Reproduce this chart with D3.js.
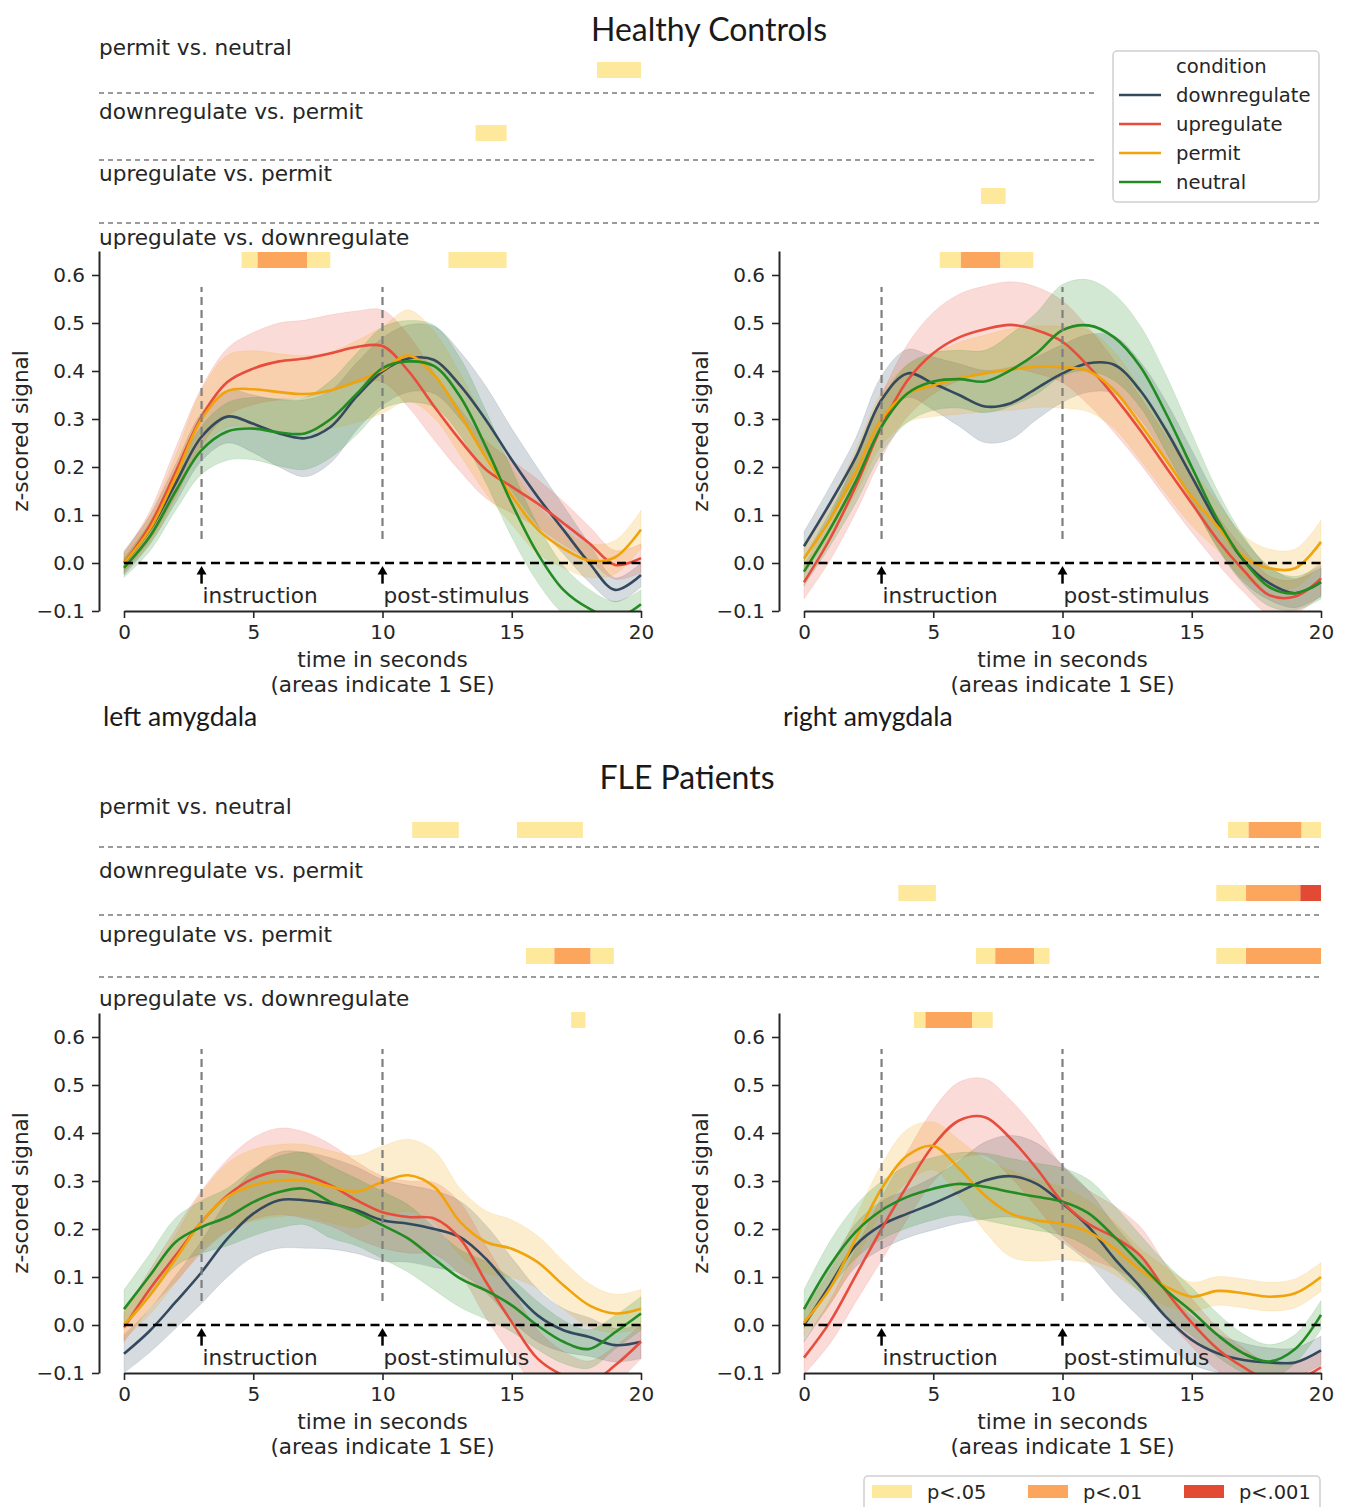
<!DOCTYPE html>
<html><head><meta charset="utf-8">
<script src="https://cdnjs.cloudflare.com/ajax/libs/d3/7.8.5/d3.min.js"></script>
<style>
body{margin:0;background:#fff;}
svg text{font-family:"DejaVu Sans",sans-serif;fill:#262626;}
.ttl{font-family:Lato,"Open Sans",sans-serif !important;fill:#1a1a1a;}
</style>
</head><body>
<svg id="chart" width="1347" height="1507"></svg>
<script>
// ---------------- data ----------------
const time = [0,1,2,3,4,5,6,7,8,9,10,11,12,13,14,15,16,17,18,19,20];
const conditions = ["downregulate","upregulate","permit","neutral"];
const comparisons = ["permit vs. neutral","downregulate vs. permit","upregulate vs. permit","upregulate vs. downregulate"];
const pLabels = ["p<.05","p<.01","p<.001"];
const yTicks = [-0.1,0,0.1,0.2,0.3,0.4,0.5,0.6];
const xTicks = [0,5,10,15,20];

// Healthy controls, left amygdala
const hcLeftDown    = [0.0,0.069,0.166,0.263,0.305,0.29,0.27,0.26,0.284,0.347,0.399,0.426,0.423,0.37,0.298,0.215,0.138,0.069,0.0,-0.056,-0.025];
const hcLeftDownSE  = [0.025,0.03,0.04,0.05,0.055,0.06,0.07,0.08,0.075,0.07,0.07,0.07,0.07,0.07,0.07,0.065,0.06,0.05,0.04,0.025,0.025];
const hcLeftUp      = [0.0,0.078,0.19,0.305,0.377,0.405,0.42,0.426,0.437,0.45,0.452,0.40,0.326,0.256,0.195,0.159,0.124,0.083,0.041,-0.004,0.01];
const hcLeftUpSE    = [0.02,0.03,0.05,0.06,0.07,0.075,0.08,0.08,0.08,0.075,0.075,0.075,0.07,0.065,0.06,0.055,0.05,0.045,0.035,0.03,0.03];
const hcLeftPermit  = [0.0,0.07,0.18,0.30,0.358,0.362,0.356,0.352,0.36,0.378,0.402,0.432,0.392,0.31,0.22,0.14,0.07,0.03,0.005,0.012,0.07];
const hcLeftPermitSE= [0.02,0.03,0.045,0.06,0.075,0.08,0.08,0.08,0.08,0.085,0.09,0.095,0.09,0.085,0.075,0.06,0.05,0.04,0.035,0.035,0.04];
const hcLeftNeutral = [-0.01,0.055,0.15,0.235,0.274,0.28,0.272,0.27,0.3,0.352,0.406,0.42,0.41,0.347,0.242,0.124,0.02,-0.056,-0.095,-0.115,-0.086];
const hcLeftNeutralSE=[0.02,0.03,0.04,0.05,0.06,0.065,0.07,0.075,0.08,0.085,0.085,0.085,0.085,0.08,0.075,0.07,0.06,0.05,0.04,0.035,0.03];

// Healthy controls, right amygdala
const hcRightDown    = [0.035,0.124,0.22,0.34,0.395,0.374,0.35,0.326,0.333,0.364,0.395,0.416,0.413,0.36,0.277,0.18,0.083,0.006,-0.042,-0.063,-0.04];
const hcRightDownSE  = [0.03,0.035,0.04,0.05,0.05,0.055,0.065,0.075,0.075,0.065,0.06,0.06,0.06,0.06,0.06,0.055,0.05,0.045,0.035,0.03,0.03];
const hcRightUp      = [-0.04,0.05,0.16,0.284,0.38,0.437,0.47,0.487,0.496,0.485,0.461,0.41,0.347,0.277,0.2,0.124,0.048,-0.015,-0.067,-0.07,-0.032];
const hcRightUpSE    = [0.035,0.045,0.055,0.065,0.075,0.085,0.09,0.09,0.09,0.09,0.085,0.08,0.075,0.07,0.065,0.06,0.05,0.045,0.04,0.035,0.035];
const hcRightPermit  = [0.01,0.09,0.19,0.30,0.353,0.37,0.385,0.395,0.403,0.409,0.408,0.40,0.36,0.29,0.215,0.138,0.076,0.013,-0.011,-0.011,0.044];
const hcRightPermitSE= [0.03,0.035,0.045,0.055,0.06,0.065,0.075,0.08,0.085,0.085,0.085,0.085,0.08,0.075,0.07,0.06,0.05,0.045,0.04,0.04,0.045];
const hcRightNeutral = [-0.018,0.07,0.17,0.284,0.353,0.378,0.383,0.378,0.402,0.437,0.485,0.495,0.47,0.41,0.312,0.2,0.09,0.006,-0.05,-0.063,-0.04];
const hcRightNeutralSE=[0.03,0.035,0.045,0.055,0.06,0.06,0.06,0.065,0.075,0.085,0.095,0.095,0.09,0.085,0.08,0.07,0.06,0.05,0.04,0.035,0.035];

// FLE patients, left amygdala
const fleLeftDown    = [-0.06,-0.012,0.048,0.11,0.18,0.232,0.26,0.26,0.253,0.239,0.218,0.211,0.2,0.183,0.138,0.075,0.02,-0.011,-0.025,-0.042,-0.035];
const fleLeftDownSE  = [0.04,0.045,0.055,0.065,0.08,0.09,0.1,0.1,0.095,0.09,0.085,0.08,0.08,0.075,0.07,0.065,0.055,0.045,0.04,0.035,0.035];
const fleLeftUp      = [-0.005,0.075,0.145,0.215,0.27,0.305,0.32,0.312,0.291,0.26,0.235,0.225,0.222,0.18,0.09,0.006,-0.07,-0.105,-0.12,-0.084,-0.035];
const fleLeftUpSE    = [0.03,0.04,0.055,0.065,0.075,0.085,0.09,0.09,0.085,0.08,0.075,0.075,0.075,0.075,0.075,0.07,0.06,0.05,0.045,0.04,0.035];
const fleLeftPermit  = [0.0,0.062,0.138,0.215,0.267,0.291,0.301,0.301,0.288,0.278,0.298,0.312,0.288,0.215,0.173,0.159,0.131,0.083,0.041,0.024,0.034];
const fleLeftPermitSE= [0.03,0.04,0.05,0.06,0.07,0.075,0.075,0.075,0.075,0.075,0.075,0.075,0.075,0.07,0.065,0.06,0.055,0.05,0.045,0.04,0.04];
const fleLeftNeutral = [0.033,0.103,0.173,0.204,0.225,0.256,0.277,0.284,0.256,0.235,0.208,0.18,0.138,0.097,0.072,0.041,-0.001,-0.035,-0.05,-0.015,0.024];
const fleLeftNeutralSE=[0.04,0.045,0.05,0.055,0.06,0.07,0.075,0.075,0.075,0.07,0.07,0.07,0.065,0.06,0.06,0.055,0.05,0.045,0.04,0.035,0.035];

// FLE patients, right amygdala
const fleRightDown    = [0.0,0.083,0.166,0.208,0.232,0.253,0.277,0.301,0.31,0.294,0.253,0.205,0.139,0.08,0.017,-0.031,-0.059,-0.073,-0.078,-0.078,-0.053];
const fleRightDownSE  = [0.035,0.04,0.045,0.05,0.05,0.055,0.065,0.08,0.085,0.085,0.08,0.075,0.07,0.065,0.055,0.05,0.04,0.035,0.03,0.03,0.03];
const fleRightUp      = [-0.068,0.006,0.103,0.2,0.291,0.374,0.426,0.433,0.388,0.326,0.256,0.211,0.183,0.145,0.071,0.005,-0.05,-0.088,-0.115,-0.115,-0.088];
const fleRightUpSE    = [0.035,0.045,0.055,0.065,0.07,0.075,0.08,0.08,0.08,0.08,0.075,0.07,0.065,0.06,0.055,0.05,0.045,0.04,0.035,0.035,0.035];
const fleRightPermit  = [0.005,0.076,0.18,0.284,0.353,0.373,0.326,0.27,0.232,0.218,0.211,0.194,0.16,0.115,0.08,0.059,0.071,0.066,0.059,0.066,0.1];
const fleRightPermitSE= [0.03,0.035,0.045,0.05,0.055,0.05,0.06,0.075,0.09,0.085,0.075,0.065,0.055,0.045,0.04,0.03,0.03,0.03,0.03,0.03,0.03];
const fleRightNeutral = [0.033,0.124,0.194,0.239,0.267,0.284,0.294,0.288,0.277,0.267,0.257,0.233,0.184,0.128,0.073,0.028,-0.021,-0.059,-0.076,-0.05,0.021];
const fleRightNeutralSE=[0.04,0.05,0.055,0.06,0.065,0.065,0.065,0.07,0.07,0.07,0.07,0.07,0.065,0.06,0.055,0.05,0.045,0.04,0.035,0.03,0.03];

// significance intervals: [panel, start s, end s, level (0:p<.05, 1:p<.01, 2:p<.001)]
const hcSigPermitNeutral = [["L",18.3,20,0]];
const hcSigDownPermit    = [["L",13.6,14.8,0]];
const hcSigUpPermit      = [["R",6.85,7.8,0]];
const hcSigUpDown        = [["L",4.55,5.17,0],["L",5.17,7.08,1],["L",7.08,7.98,0],["L",12.55,14.8,0],
                            ["R",5.25,6.07,0],["R",6.07,7.6,1],["R",7.6,8.87,0]];
const fleSigPermitNeutral= [["L",11.15,12.95,0],["L",15.2,17.75,0],["R",16.4,17.2,0],["R",17.2,19.25,1],["R",19.25,20,0]];
const fleSigDownPermit   = [["R",3.65,5.1,0],["R",15.95,17.1,0],["R",17.1,19.2,1],["R",19.2,20,2]];
const fleSigUpPermit     = [["L",15.55,16.65,0],["L",16.65,18.05,1],["L",18.05,18.95,0],
                            ["R",6.65,7.4,0],["R",7.4,8.9,1],["R",8.9,9.5,0],["R",15.95,17.1,0],["R",17.1,20,1]];
const fleSigUpDown       = [["L",17.3,17.85,0],["R",4.25,4.7,0],["R",4.7,6.5,1],["R",6.5,7.3,0]];

// ---------------- styling / layout ----------------
const colors = ["#34495e","#e74c3c","#f0a30a","#228b22"];
const sigColors = ["#fee89c","#fca55d","#e34a33"];
const svg = d3.select("#chart");

const sections = [
  {title:"Healthy Controls", titleX:709, titleY:28,
   labelY:[47,111,173,237], barTop:[62,125,188,252], dashY:[93,160,223], dashEnd:[1097,1097,1322],
   yRange:[611,251],
   sig:[hcSigPermitNeutral,hcSigDownPermit,hcSigUpPermit,hcSigUpDown],
   panels:[
     {name:"left amygdala", mean:[hcLeftDown,hcLeftUp,hcLeftPermit,hcLeftNeutral], se:[hcLeftDownSE,hcLeftUpSE,hcLeftPermitSE,hcLeftNeutralSE]},
     {name:"right amygdala", mean:[hcRightDown,hcRightUp,hcRightPermit,hcRightNeutral], se:[hcRightDownSE,hcRightUpSE,hcRightPermitSE,hcRightNeutralSE]}
   ], showNames:true},
  {title:"FLE Patients", titleX:687, titleY:776,
   labelY:[806,870,934,998], barTop:[822,885,948,1012], dashY:[847,915,977], dashEnd:[1322,1322,1322],
   yRange:[1373,1013],
   sig:[fleSigPermitNeutral,fleSigDownPermit,fleSigUpPermit,fleSigUpDown],
   panels:[
     {name:"", mean:[fleLeftDown,fleLeftUp,fleLeftPermit,fleLeftNeutral], se:[fleLeftDownSE,fleLeftUpSE,fleLeftPermitSE,fleLeftNeutralSE]},
     {name:"", mean:[fleRightDown,fleRightUp,fleRightPermit,fleRightNeutral], se:[fleRightDownSE,fleRightUpSE,fleRightPermitSE,fleRightNeutralSE]}
   ], showNames:false}
];
const panelX = [[124,641],[804,1321]];
const spineX = [99,779];
const xScales = panelX.map(r => d3.scaleLinear().domain([0,20]).range(r));
const bigFont = "21.6px";

sections.forEach((sec, si) => {
  svg.append("text").attr("class","ttl").attr("x",sec.titleX).attr("y",sec.titleY)
    .attr("text-anchor","middle").attr("dominant-baseline","central")
    .style("font-size","32px").text(sec.title);

  comparisons.forEach((c,i) => {
    svg.append("text").attr("x",99).attr("y",sec.labelY[i]).attr("dominant-baseline","central")
      .style("font-size",bigFont).text(c);
    sec.sig[i].forEach(s => {
      const xs = xScales[s[0]==="L"?0:1];
      svg.append("rect").attr("x",xs(s[1])).attr("y",sec.barTop[i])
        .attr("width",xs(s[2])-xs(s[1])).attr("height",16)
        .attr("fill",sigColors[s[3]]);
    });
    if (i<3) {
      svg.append("line").attr("x1",99).attr("x2",sec.dashEnd[i]).attr("y1",sec.dashY[i]).attr("y2",sec.dashY[i])
        .attr("stroke","#7a7a7a").attr("stroke-width",1.7).attr("stroke-dasharray","5,4");
    }
  });

  const y = d3.scaleLinear().domain([-0.1,0.65]).range(sec.yRange);

  sec.panels.forEach((p, pi) => {
    const x = xScales[pi];
    const g = svg.append("g");
    const clipId = `clip${si}${pi}`;
    svg.append("clipPath").attr("id",clipId).append("rect")
      .attr("x",x(0)-2).attr("y",y(0.65)).attr("width",x(20)-x(0)+4).attr("height",y(-0.1)-y(0.65));
    const plot = g.append("g").attr("clip-path",`url(#${clipId})`);

    const area = d3.area().curve(d3.curveCatmullRom)
      .x((d,i)=>x(time[i])).y0(d=>y(d[0]-d[1])).y1(d=>y(d[0]+d[1]));
    const line = d3.line().curve(d3.curveCatmullRom).x((d,i)=>x(time[i])).y(d=>y(d));

    p.mean.forEach((m,k) => {
      const pts = m.map((v,i)=>[v,p.se[k][i]]);
      plot.append("path").attr("d",area(pts)).attr("fill",colors[k]).attr("fill-opacity",0.2)
        .attr("stroke",colors[k]).attr("stroke-opacity",0.12).attr("stroke-width",1);
    });
    [3,10].forEach(t => {
      g.append("line").attr("x1",x(t)).attr("x2",x(t)).attr("y1",y(0.05)).attr("y2",y(0.575))
        .attr("stroke","#7f7f7f").attr("stroke-width",2.2).attr("stroke-dasharray","8,5");
    });
    p.mean.forEach((m,k) => {
      plot.append("path").attr("d",line(m)).attr("fill","none").attr("stroke",colors[k]).attr("stroke-width",2.6);
    });
    g.append("line").attr("x1",x(0)).attr("x2",x(20)).attr("y1",y(0)).attr("y2",y(0))
      .attr("stroke","#000").attr("stroke-width",2.6).attr("stroke-dasharray","9,5.5");
    [[3,"instruction"],[10,"post-stimulus"]].forEach(([t,lab]) => {
      g.append("line").attr("x1",x(t)).attr("x2",x(t)).attr("y1",y(-0.043)).attr("y2",y(-0.02))
        .attr("stroke","#000").attr("stroke-width",2.5);
      g.append("path").attr("d",`M${x(t)},${y(-0.006)} L${x(t)-5},${y(-0.024)} L${x(t)+5},${y(-0.024)} Z`).attr("fill","#000");
      g.append("text").attr("x",x(t)+1).attr("y",y(-0.084)).style("font-size",bigFont).text(lab);
    });

    const ya = g.append("g").attr("transform",`translate(${spineX[pi]},0)`)
      .call(d3.axisLeft(y).tickValues(yTicks).tickFormat(d3.format(".1f")).tickSize(7).tickPadding(7).tickSizeOuter(0));
    const xa = g.append("g").attr("transform",`translate(0,${y(-0.1)})`)
      .call(d3.axisBottom(x).tickValues(xTicks).tickFormat(d3.format("d")).tickSize(7).tickPadding(7).tickSizeOuter(0));
    [ya,xa].forEach(a => {
      a.select(".domain").attr("stroke","#262626").attr("stroke-width",2);
      a.selectAll(".tick line").attr("stroke","#262626").attr("stroke-width",1.6);
      a.selectAll(".tick text").style("font-size","20px").style("font-family","'DejaVu Sans',sans-serif").attr("fill","#262626");
    });

    const cx = (x(0)+x(20))/2;
    g.append("text").attr("x",cx).attr("y",y(-0.1)+48).attr("text-anchor","middle").attr("dominant-baseline","central")
      .style("font-size",bigFont).text("time in seconds");
    g.append("text").attr("x",cx).attr("y",y(-0.1)+73).attr("text-anchor","middle").attr("dominant-baseline","central")
      .style("font-size",bigFont).text("(areas indicate 1 SE)");
    const ym = (y(-0.1)+y(0.65))/2;
    g.append("text").attr("transform",`translate(${spineX[pi]-79},${ym}) rotate(-90)`)
      .attr("text-anchor","middle").attr("dominant-baseline","central").style("font-size",bigFont).text("z-scored signal");

    if (sec.showNames) {
      g.append("text").attr("class","ttl").attr("x",spineX[pi]+4).attr("y",716).attr("dominant-baseline","central")
        .style("font-size","26.5px").text(p.name);
    }
  });
});

// condition legend
const lg = svg.append("g");
lg.append("rect").attr("x",1113).attr("y",51).attr("width",206).attr("height",151).attr("rx",4)
  .attr("fill","#fff").attr("stroke","#d0d0d0").attr("stroke-width",1.5);
lg.append("text").attr("x",1176).attr("y",66).attr("dominant-baseline","central").style("font-size","19.6px").text("condition");
conditions.forEach((c,i) => {
  const yy = 95 + i*29;
  lg.append("line").attr("x1",1119).attr("x2",1161).attr("y1",yy).attr("y2",yy).attr("stroke",colors[i]).attr("stroke-width",2.6);
  lg.append("text").attr("x",1176).attr("y",yy).attr("dominant-baseline","central").style("font-size","19.6px").text(c);
});

// p legend
const pl = svg.append("g");
pl.append("rect").attr("x",864).attr("y",1476).attr("width",456).attr("height",45).attr("rx",4)
  .attr("fill","#fff").attr("stroke","#d0d0d0").attr("stroke-width",1.5);
pLabels.forEach((l,i) => {
  const x0 = 872 + i*156;
  pl.append("rect").attr("x",x0).attr("y",1485).attr("width",40).attr("height",13).attr("fill",sigColors[i]);
  pl.append("text").attr("x",x0+55).attr("y",1492).attr("dominant-baseline","central").style("font-size","19.4px").text(l);
});
</script>
</body></html>
